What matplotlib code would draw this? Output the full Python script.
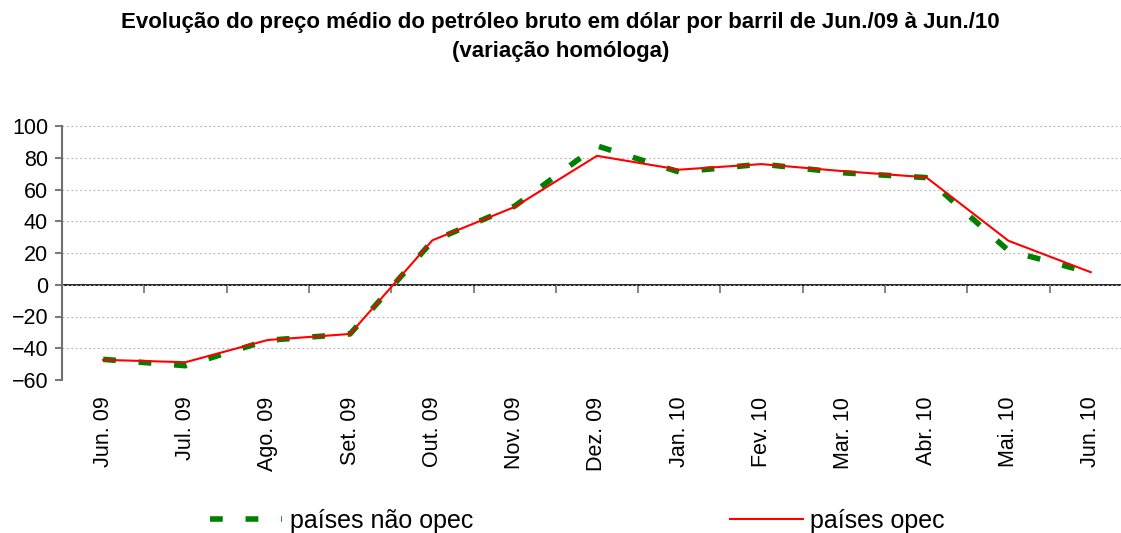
import numpy as np
import matplotlib
matplotlib.use("Agg")
import matplotlib.pyplot as plt

plt.rcParams["font.family"] = ["Liberation Sans", "DejaVu Sans"]

# monthly data (variação homóloga, %)
months = ["Jun. 09", "Jul. 09", "Ago. 09", "Set. 09", "Out. 09", "Nov. 09", "Dez. 09",
          "Jan. 10", "Fev. 10", "Mar. 10", "Abr. 10", "Mai. 10", "Jun. 10"]
nao_opec = [-47, -51, -35, -31, 27.5, 49.5, 87.5, 71, 76, 70.5, 67.5, 21.5, 7.5]
opec = [-47.3, -48.8, -34.8, -31, 28, 49, 81.2, 72.5, 76, 71.5, 67.7, 27.7, 7.9]
yticks = [-60, -40, -20, 0, 20, 40, 60, 80, 100]

fig = plt.figure(figsize=(11.21, 5.33), dpi=100)
ax = fig.add_axes([62/1121, 153/533, 1059/1121, 254/533])

x = np.arange(len(months))
ax.plot(x, nao_opec, color="#008000", lw=4, dashes=(2.3, 4.1),
        dash_capstyle="butt", label="países não opec", zorder=3)
ax.plot(x, opec, color="#ff0000", lw=1.5, label="países opec", zorder=4)

ax.set_ylim(-60, 100)
ax.set_xlim(-0.5, -0.5 + 1059/82.3)
ax.set_yticks(yticks)
ax.yaxis.grid(True, color="#b0b0b0", linestyle=(0, (1.5, 2.5)), lw=0.8)
ax.set_axisbelow(True)

for s in ["top", "right", "bottom"]:
    ax.spines[s].set_visible(False)
ax.spines["left"].set_color("#707070")
ax.spines["left"].set_linewidth(1.5)
ax.tick_params(axis="y", direction="out", length=5, width=1.2, color="#606060",
               labelsize=15.5, pad=5)

# category labels at the bottom of the plot
ax.set_xticks(x)
ax.set_xticklabels(months, rotation=90, va="top", ha="center")
ax.tick_params(axis="x", length=0, labelsize=15.5, pad=12)

# zero line with tick marks between the categories
zero = ax.secondary_xaxis(60/160)
zero.set_xticks(np.arange(len(months)) - 0.5)
zero.tick_params(axis="x", direction="out", length=6, width=1.2, color="#707070",
                 labelbottom=False)
zero.spines["bottom"].set_color("black")
zero.spines["bottom"].set_linewidth(1.2)

fig.text(0.5, 1 - 22/533, "Evolução do preço médio do petróleo bruto em dólar por barril de Jun./09 à Jun./10",
         ha="center", va="center", fontsize=16, fontweight="bold")
fig.text(0.5, 1 - 52/533, "(variação homóloga)",
         ha="center", va="center", fontsize=16, fontweight="bold")

fig.legend(loc="center", bbox_to_anchor=(0.515, 1 - 521/533), ncol=2, frameon=False,
           fontsize=18, handlelength=2.9, handletextpad=0.3, columnspacing=10.3)

fig.savefig("out.png", dpi=100)
